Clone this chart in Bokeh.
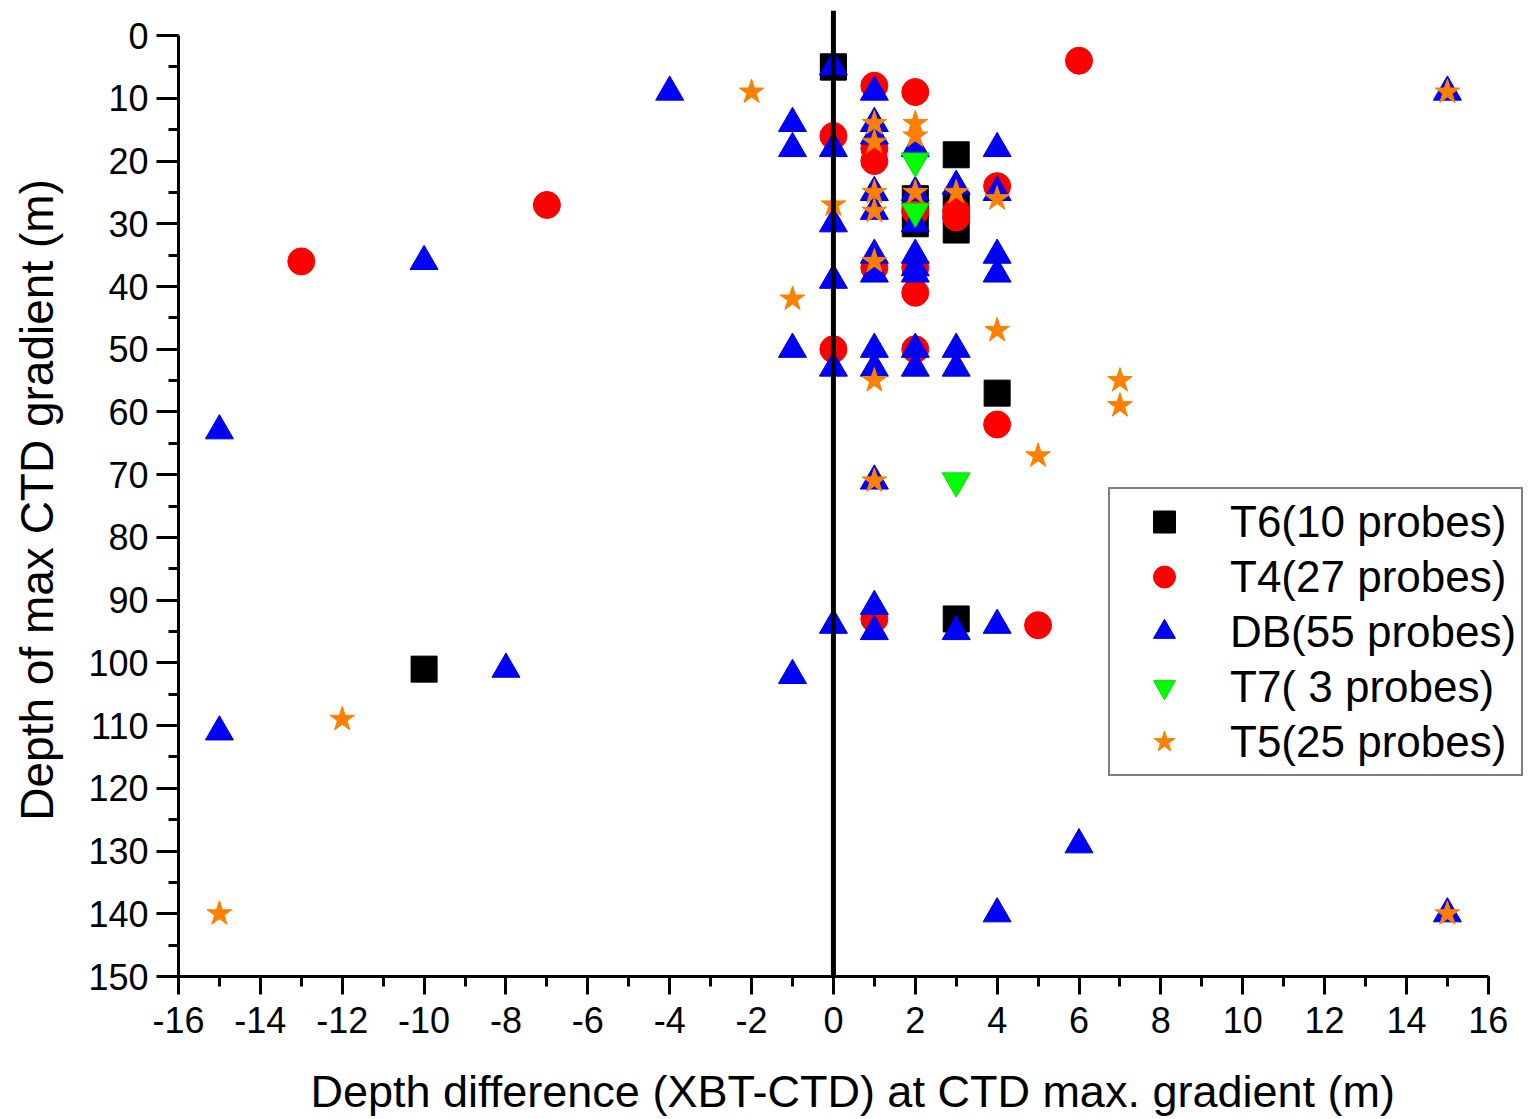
from bokeh.plotting import figure
from bokeh.models import (Span, Legend, LegendItem, SingleIntervalTicker, Range1d,
                          CustomJSTickFormatter)
from bokeh.embed import file_html
from bokeh.resources import INLINE

# ---- data ----
T6_x = [0, 3, 2, 2, 3, 3, 4, 3, -10, 0]
T6_y = [5, 19, 26, 30, 27, 31, 57, 93, 101, 5]

T4_x = [6, 1, 2, 0, 1, 1, 4, -7, 3, 3, 2, -13, 1, 2, 2, 0, 2, 4, 1, 5]
T4_y = [4, 8, 9, 16, 18, 20, 24, 27, 28, 29, 28, 36, 37, 37, 41, 50, 50, 62, 93, 94]

DB_x = [0, -4, 1, 15, -1, 1, 1, -1, 0, 2, 4, 3, 1, 2, 4, 1, 0, 2,
        1, 1, 2, 2, 2, -10, 4, 4, 0, -1, 1, 2, 3, 0, 1, 2, 3,
        -15, 1, 1, 0, 1, 3, 4, -8, -1, -15, 6, 4, 15]
DB_y = [5, 9, 9, 9, 14, 14, 16, 18, 18, 18, 18, 24, 25, 25, 25, 28, 30, 30,
        35, 38, 35, 37, 38, 36, 35, 38, 39, 50, 50, 50, 50, 53, 53, 53, 53,
        63, 71, 91, 94, 95, 95, 94, 101, 102, 111, 129, 140, 140]

T7_x = [2, 2, 3]
T7_y = [20, 28, 71]

T5_x = [-2, 15, 1, 1, 2, 2, 1, 1, 2, 3, 4, 0, 1, -1, 4, 1, 7, 7, 5, 1, -12, -15, 15]
T5_y = [9, 9, 14, 17, 14, 16, 25, 28, 25, 25, 26, 27, 36, 42, 47, 55, 55, 59, 67, 71, 109, 140, 140]

labels = ["T6(10 probes)", "T4(27 probes)", "DB(55 probes)", "T7( 3 probes)", "T5(25 probes)"]

FONT = "Liberation Sans"

# frame spans to the right edge of the canvas so the legend is not clipped;
# the x axis itself is bounded to -16..16
p = figure(width=1539, height=1119, output_backend="svg", toolbar_location=None,
           x_range=Range1d(-16, 17.25), y_range=Range1d(150, -4),
           min_border_left=178, min_border_right=0, min_border_top=10, min_border_bottom=141)
p.outline_line_color = None
p.xgrid.visible = False
p.ygrid.visible = False
p.background_fill_color = "white"
p.border_fill_color = "white"

r6 = p.scatter(T6_x, T6_y, marker="square", size=26, fill_color="black", line_color="black")
r4 = p.scatter(T4_x, T4_y, marker="circle", size=27, fill_color="#FF0000", line_color="#FF0000")
rdb = p.scatter(DB_x, DB_y, marker="triangle", size=28, fill_color="#0000FF", line_color="#0000CC")
r7 = p.scatter(T7_x, T7_y, marker="inverted_triangle", size=28, fill_color="#00FF00", line_color="#00DD00")
r5 = p.scatter(T5_x, T5_y, marker="star", size=26, fill_color="#FF8000", line_color="#FF8000")

p.add_layout(Span(location=0, dimension="height", line_color="black", line_width=5))

p.xaxis.ticker = SingleIntervalTicker(interval=2, num_minor_ticks=2)
p.yaxis.ticker = SingleIntervalTicker(interval=10, num_minor_ticks=2)
p.xaxis.bounds = (-16, 16)
p.yaxis.bounds = (0, 150)
p.xaxis.formatter = CustomJSTickFormatter(code="return String(tick)")

for ax in (p.xaxis[0], p.yaxis[0]):
    ax.axis_line_width = 3
    ax.major_tick_line_width = 3
    ax.minor_tick_line_width = 3
    ax.major_tick_in = 0
    ax.minor_tick_in = 0
    ax.major_label_text_font = FONT
    ax.major_label_text_font_size = "36px"
    ax.major_label_text_color = "black"
    ax.axis_label_text_font = FONT
    ax.axis_label_text_font_style = "normal"
    ax.axis_label_text_color = "black"

p.xaxis.major_tick_out = 18
p.xaxis.minor_tick_out = 10
p.yaxis.major_tick_out = 22
p.yaxis.minor_tick_out = 10
p.xaxis.major_label_standoff = 12
p.yaxis.major_label_standoff = 8

p.xaxis.axis_label = "Depth difference (XBT-CTD) at CTD max. gradient  (m)"
p.xaxis.axis_label_text_font_size = "45px"
p.xaxis.axis_label_standoff = 30
p.yaxis.axis_label = "Depth of max CTD gradient  (m)"
p.yaxis.axis_label_text_font_size = "46px"
p.yaxis.axis_label_standoff = 22

legend = Legend(items=[LegendItem(label=labels[0], renderers=[r6]),
                       LegendItem(label=labels[1], renderers=[r4]),
                       LegendItem(label=labels[2], renderers=[rdb]),
                       LegendItem(label=labels[3], renderers=[r7]),
                       LegendItem(label=labels[4], renderers=[r5])],
                location=(930, 200))
legend.label_text_font = FONT
legend.label_text_font_size = "44px"
legend.label_text_color = "black"
legend.label_text_baseline = "middle"
legend.glyph_width = 98
legend.glyph_height = 55
legend.label_height = 55
legend.label_standoff = 17
legend.spacing = 0
legend.padding = 5
legend.margin = 0
legend.border_line_color = "black"
legend.border_line_width = 2
legend.background_fill_color = "white"
legend.background_fill_alpha = 1.0
p.add_layout(legend, "center")

open("out.html", "w").write(file_html(p, INLINE))
